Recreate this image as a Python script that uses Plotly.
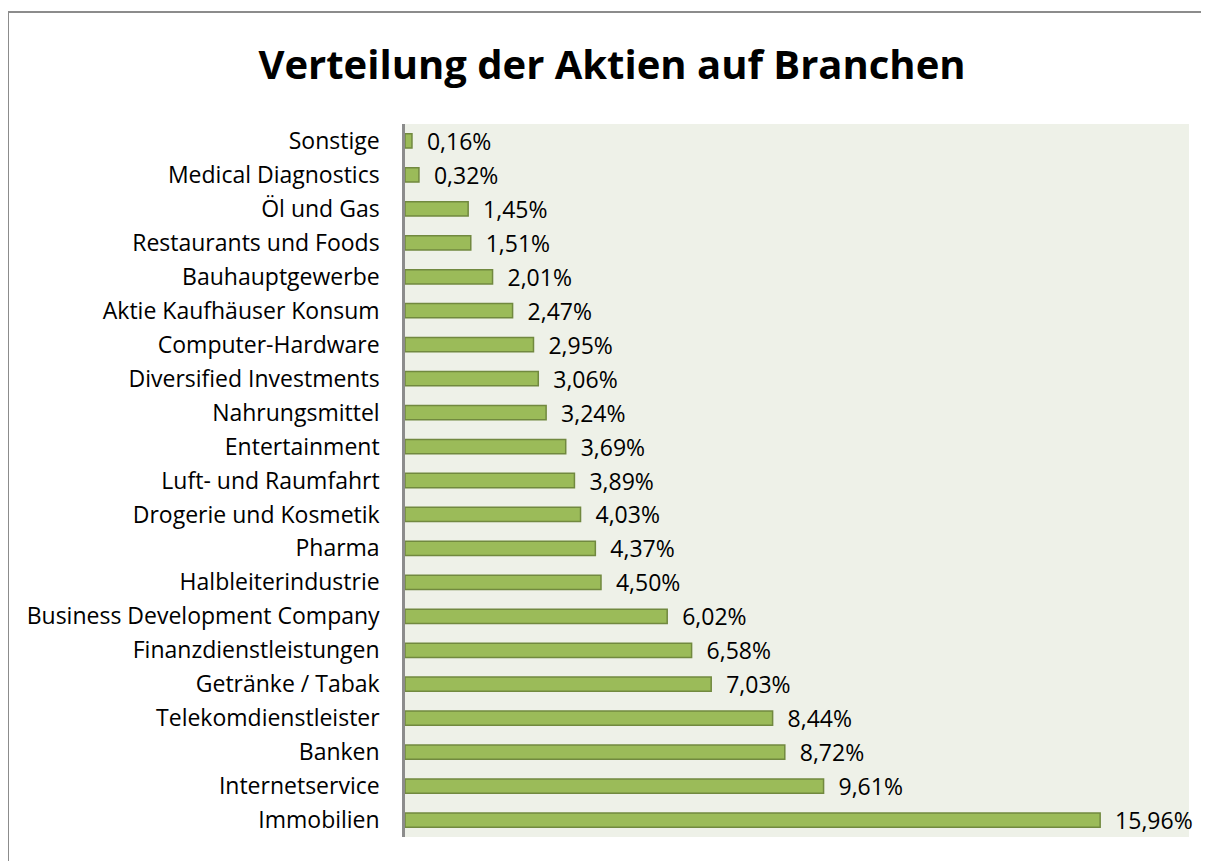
import plotly.graph_objects as go

categories = ["Sonstige", "Medical Diagnostics", "Öl und Gas", "Restaurants und Foods",
              "Bauhauptgewerbe", "Aktie Kaufhäuser Konsum", "Computer-Hardware",
              "Diversified Investments", "Nahrungsmittel", "Entertainment",
              "Luft- und Raumfahrt", "Drogerie und Kosmetik", "Pharma",
              "Halbleiterindustrie", "Business Development Company",
              "Finanzdienstleistungen", "Getränke / Tabak", "Telekomdienstleister",
              "Banken", "Internetservice", "Immobilien"]
values = [0.16, 0.32, 1.45, 1.51, 2.01, 2.47, 2.95, 3.06, 3.24, 3.69, 3.89, 4.03,
          4.37, 4.50, 6.02, 6.58, 7.03, 8.44, 8.72, 9.61, 15.96]

FONT = "Open Sans"
OFF = 8  # page body margin offset
W, H = 1209 - OFF, 861 - OFF
# target pixel positions in the screenshot
PL, PR, PT, PB = 405, 1189, 124, 837
L, R, T, B = PL - OFF, W - (PR - OFF), PT - OFF, H - (PB - OFF)
pw, ph = W - L - R, H - T - B

fig = go.Figure(go.Bar(
    y=categories, x=values, orientation="h",
    marker=dict(color="#9BBB59", line=dict(color="#71893F", width=1.5)),
    width=0.42,
    text=values, texttemplate="  %{x:.2f}%", textposition="outside",
    constraintext="none",
    textfont=dict(family=FONT, size=23, color="#000000"),
    cliponaxis=False,
))

def px_x(p):
    return (p - PL) / pw

def px_y(p):
    return (PB - p) / ph

fig.update_layout(
    width=W, height=H,
    margin=dict(l=L, r=R, t=T, b=B, autoexpand=False),
    paper_bgcolor="white", plot_bgcolor="#EEF1E8",
    separators=",.",
    showlegend=False,
    title=dict(text="<b>Verteilung der Aktien auf Branchen</b>", x=(612 - OFF) / W,
               xanchor="center", y=1 - (65 - OFF) / H, yanchor="middle",
               font=dict(family=FONT, size=40, color="#000000")),
    xaxis=dict(range=[0, 18], showticklabels=False, showgrid=False, zeroline=False,
               ticks="", showline=False, fixedrange=True),
    yaxis=dict(categoryorder="array", categoryarray=categories, autorange="reversed",
               showgrid=False, zeroline=False, showline=True, linecolor="#8C8C8C", linewidth=2.5,
               ticks="outside", ticklen=18, tickcolor="rgba(0,0,0,0)",
               tickfont=dict(family=FONT, size=23, color="#000000")),
    shapes=[dict(type="rect", xref="paper", yref="paper",
                 x0=px_x(8), x1=px_x(1216), y0=px_y(872), y1=px_y(12),
                 line=dict(color="#8C8C8C", width=2), fillcolor="rgba(0,0,0,0)", layer="below")],
)

fig.write_html("out.html")
